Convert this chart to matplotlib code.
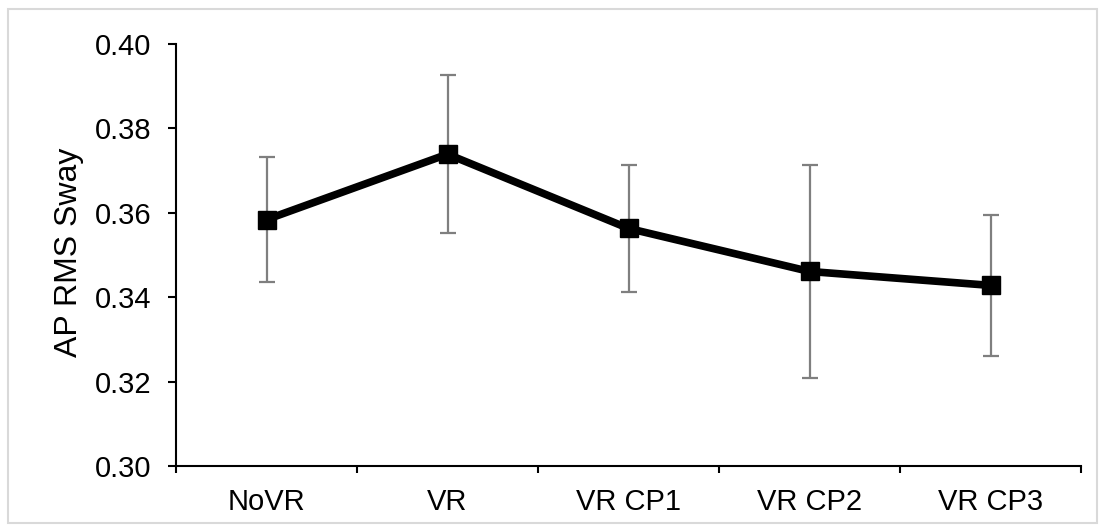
import numpy as np
import matplotlib
matplotlib.use('Agg')
from matplotlib import pyplot as plt
from matplotlib.patches import Rectangle

# data
labels = ['NoVR', 'VR', 'VR CP1', 'VR CP2', 'VR CP3']
sway = [0.3584, 0.3739, 0.3563, 0.3461, 0.3428]
err = [0.0148, 0.0187, 0.0151, 0.0252, 0.0168]

plt.rcParams['font.family'] = ['Liberation Sans', 'DejaVu Sans']

fig = plt.figure(figsize=(11.05, 5.31), dpi=100)
ax = fig.add_axes([0.1593, 0.1224, 0.819, 0.7947])

x = np.arange(len(labels))
ax.errorbar(x, sway, yerr=err, fmt='none', ecolor='#7f7f7f',
            elinewidth=1.6, capsize=5.5, capthick=1.6, zorder=2)
ax.plot(x, sway, color='black', lw=5.5, marker='s', ms=13, zorder=3)

ax.set_ylim(0.30, 0.40)
ax.set_yticks(np.arange(0.30, 0.401, 0.02))
ax.set_yticklabels(['%.2f' % v for v in np.arange(0.30, 0.401, 0.02)])
ax.set_xlim(-0.5, len(labels) - 0.5)
ax.set_xticks(np.arange(-0.5, len(labels)))
ax.set_xticklabels([])
ax.set_xticks(x, minor=True)
ax.set_xticklabels(labels, minor=True)

ax.tick_params(axis='y', length=6, width=1.5, pad=12, labelsize=21)
ax.tick_params(axis='x', which='major', length=5, width=1.5)
ax.tick_params(axis='x', which='minor', length=0, pad=16, labelsize=21)

for s in ['top', 'right']:
    ax.spines[s].set_visible(False)
for s in ['left', 'bottom']:
    ax.spines[s].set_linewidth(1.5)

ax.set_ylabel('AP RMS Sway', fontsize=23)
ax.yaxis.set_label_coords(-0.102, 0.506)

fig.patches.append(Rectangle((0.007, 0.015), 0.986, 0.968, transform=fig.transFigure,
                             fill=False, edgecolor='#d9d9d9', lw=1.5))

fig.savefig('out.png', dpi=100)
